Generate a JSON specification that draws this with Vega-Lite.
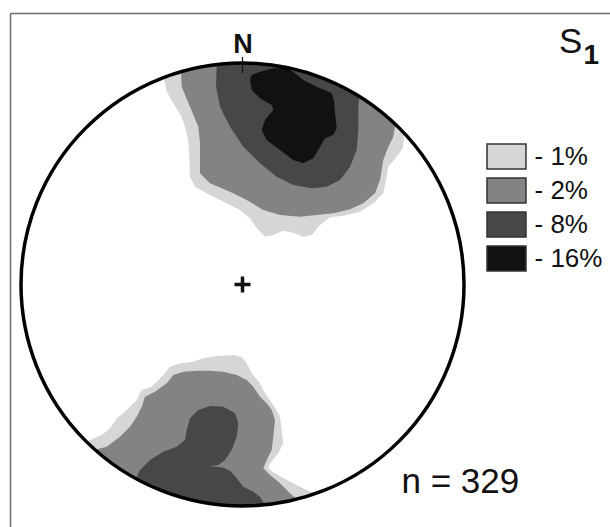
{
"$schema":"https://vega.github.io/schema/vega-lite/v6.json",
"width":600,"height":514,
"autosize":{"type":"none"},
"padding":{"left":10,"top":13,"right":0,"bottom":0},
"background":"white",
"config":{"view":{"stroke":null},"font":"Liberation Sans"},
"datasets":{
"contours":[
{"p":"nL","l":"1%","i":0,"x":-78.6,"y":207.1},{"p":"nL","l":"1%","i":1,"x":-75.8,"y":192.8},{"p":"nL","l":"1%","i":2,"x":-69.2,"y":181.2},{"p":"nL","l":"1%","i":3,"x":-60.8,"y":167.8},{"p":"nL","l":"1%","i":4,"x":-57.5,"y":157.8},{"p":"nL","l":"1%","i":5,"x":-54.2,"y":144.5},{"p":"nL","l":"1%","i":6,"x":-53.2,"y":127.8},{"p":"nL","l":"1%","i":7,"x":-52.5,"y":107.8},{"p":"nL","l":"1%","i":8,"x":-47.5,"y":97.8},{"p":"nL","l":"1%","i":9,"x":-32.5,"y":89.5},{"p":"nL","l":"1%","i":10,"x":-15.8,"y":81.2},{"p":"nL","l":"1%","i":11,"x":-2.5,"y":74.5},{"p":"nL","l":"1%","i":12,"x":7.5,"y":66.2},{"p":"nL","l":"1%","i":13,"x":15.8,"y":54.5},{"p":"nL","l":"1%","i":14,"x":22.5,"y":47.8},{"p":"nL","l":"1%","i":15,"x":30.8,"y":49.5},{"p":"nL","l":"1%","i":16,"x":40.8,"y":53.8},{"p":"nL","l":"1%","i":17,"x":50.8,"y":51.8},{"p":"nL","l":"1%","i":18,"x":60.8,"y":47.8},{"p":"nL","l":"1%","i":19,"x":69.2,"y":49.5},{"p":"nL","l":"1%","i":20,"x":77.5,"y":59.5},{"p":"nL","l":"1%","i":21,"x":87.5,"y":67.2},{"p":"nL","l":"1%","i":22,"x":100.8,"y":68.8},{"p":"nL","l":"1%","i":23,"x":117.5,"y":72.8},{"p":"nL","l":"1%","i":24,"x":130.8,"y":81.2},{"p":"nL","l":"1%","i":25,"x":140.8,"y":91.2},{"p":"nL","l":"1%","i":26,"x":143.5,"y":104.5},{"p":"nL","l":"1%","i":27,"x":145.8,"y":117.8},{"p":"nL","l":"1%","i":28,"x":154.2,"y":127.8},{"p":"nL","l":"1%","i":29,"x":160.2,"y":136.2},{"p":"nL","l":"1%","i":30,"x":161.5,"y":146.5},{"p":"nL","l":"1%","i":31,"x":160.5,"y":152.5},{"p":"nL","l":"1%","i":32,"x":156.6,"y":156.6},{"p":"nL","l":"1%","i":33,"x":142.4,"y":169.7},{"p":"nL","l":"1%","i":34,"x":127.0,"y":181.4},{"p":"nL","l":"1%","i":35,"x":110.8,"y":191.8},{"p":"nL","l":"1%","i":36,"x":93.6,"y":200.7},{"p":"nL","l":"1%","i":37,"x":75.8,"y":208.1},{"p":"nL","l":"1%","i":38,"x":57.3,"y":213.9},{"p":"nL","l":"1%","i":39,"x":38.5,"y":218.1},{"p":"nL","l":"1%","i":40,"x":19.3,"y":220.7},{"p":"nL","l":"1%","i":41,"x":0,"y":221.5},{"p":"nL","l":"1%","i":42,"x":-19.3,"y":220.7},{"p":"nL","l":"1%","i":43,"x":-38.5,"y":218.1},{"p":"nL","l":"1%","i":44,"x":-57.3,"y":213.9},{"p":"nL","l":"1%","i":45,"x":-75.8,"y":208.1},
{"p":"sL","l":"1%","i":0,"x":-156.1,"y":-157.2},{"p":"sL","l":"1%","i":1,"x":-140.8,"y":-150.5},{"p":"sL","l":"1%","i":2,"x":-132.5,"y":-143.8},{"p":"sL","l":"1%","i":3,"x":-125.8,"y":-133.8},{"p":"sL","l":"1%","i":4,"x":-117.5,"y":-127.2},{"p":"sL","l":"1%","i":5,"x":-105.8,"y":-115.5},{"p":"sL","l":"1%","i":6,"x":-100.8,"y":-105.5},{"p":"sL","l":"1%","i":7,"x":-90.8,"y":-102.2},{"p":"sL","l":"1%","i":8,"x":-80.8,"y":-92.2},{"p":"sL","l":"1%","i":9,"x":-72.5,"y":-82.2},{"p":"sL","l":"1%","i":10,"x":-62.5,"y":-78.8},{"p":"sL","l":"1%","i":11,"x":-49.2,"y":-77.2},{"p":"sL","l":"1%","i":12,"x":-39.2,"y":-73.8},{"p":"sL","l":"1%","i":13,"x":-25.8,"y":-71.5},{"p":"sL","l":"1%","i":14,"x":-9.2,"y":-70.5},{"p":"sL","l":"1%","i":15,"x":-0.8,"y":-72.2},{"p":"sL","l":"1%","i":16,"x":4.2,"y":-78.8},{"p":"sL","l":"1%","i":17,"x":9.2,"y":-88.8},{"p":"sL","l":"1%","i":18,"x":17.5,"y":-98.8},{"p":"sL","l":"1%","i":19,"x":22.5,"y":-108.8},{"p":"sL","l":"1%","i":20,"x":30.8,"y":-120.5},{"p":"sL","l":"1%","i":21,"x":37.5,"y":-132.2},{"p":"sL","l":"1%","i":22,"x":39.2,"y":-145.5},{"p":"sL","l":"1%","i":23,"x":40.8,"y":-158.8},{"p":"sL","l":"1%","i":24,"x":35.8,"y":-168.8},{"p":"sL","l":"1%","i":25,"x":27.5,"y":-178.8},{"p":"sL","l":"1%","i":26,"x":25.8,"y":-183.8},{"p":"sL","l":"1%","i":27,"x":32.5,"y":-188.8},{"p":"sL","l":"1%","i":28,"x":44.2,"y":-195.5},{"p":"sL","l":"1%","i":29,"x":57.5,"y":-202.2},{"p":"sL","l":"1%","i":30,"x":67.5,"y":-207.2},{"p":"sL","l":"1%","i":31,"x":74.2,"y":-208.8},{"p":"sL","l":"1%","i":32,"x":57.3,"y":-213.9},{"p":"sL","l":"1%","i":33,"x":38.5,"y":-218.1},{"p":"sL","l":"1%","i":34,"x":19.3,"y":-220.7},{"p":"sL","l":"1%","i":35,"x":0,"y":-221.5},{"p":"sL","l":"1%","i":36,"x":-19.3,"y":-220.7},{"p":"sL","l":"1%","i":37,"x":-38.5,"y":-218.1},{"p":"sL","l":"1%","i":38,"x":-57.3,"y":-213.9},{"p":"sL","l":"1%","i":39,"x":-75.8,"y":-208.1},{"p":"sL","l":"1%","i":40,"x":-93.6,"y":-200.7},{"p":"sL","l":"1%","i":41,"x":-110.8,"y":-191.8},{"p":"sL","l":"1%","i":42,"x":-127.0,"y":-181.4},{"p":"sL","l":"1%","i":43,"x":-142.4,"y":-169.7},
{"p":"nM","l":"2%","i":0,"x":-61.5,"y":212.5},{"p":"nM","l":"2%","i":1,"x":-60.8,"y":197.8},{"p":"nM","l":"2%","i":2,"x":-52.5,"y":177.8},{"p":"nM","l":"2%","i":3,"x":-44.2,"y":157.8},{"p":"nM","l":"2%","i":4,"x":-42.5,"y":141.2},{"p":"nM","l":"2%","i":5,"x":-42.5,"y":124.5},{"p":"nM","l":"2%","i":6,"x":-42.5,"y":111.2},{"p":"nM","l":"2%","i":7,"x":-32.5,"y":101.2},{"p":"nM","l":"2%","i":8,"x":-12.5,"y":92.8},{"p":"nM","l":"2%","i":9,"x":4.2,"y":84.5},{"p":"nM","l":"2%","i":10,"x":20.8,"y":74.5},{"p":"nM","l":"2%","i":11,"x":37.5,"y":69.5},{"p":"nM","l":"2%","i":12,"x":57.5,"y":67.8},{"p":"nM","l":"2%","i":13,"x":74.2,"y":69.5},{"p":"nM","l":"2%","i":14,"x":90.8,"y":71.2},{"p":"nM","l":"2%","i":15,"x":107.5,"y":75.2},{"p":"nM","l":"2%","i":16,"x":120.8,"y":81.2},{"p":"nM","l":"2%","i":17,"x":132.5,"y":91.2},{"p":"nM","l":"2%","i":18,"x":137.5,"y":104.5},{"p":"nM","l":"2%","i":19,"x":140.8,"y":124.5},{"p":"nM","l":"2%","i":20,"x":145.8,"y":137.8},{"p":"nM","l":"2%","i":21,"x":150.8,"y":147.8},{"p":"nM","l":"2%","i":22,"x":152.5,"y":158.5},{"p":"nM","l":"2%","i":23,"x":142.4,"y":169.7},{"p":"nM","l":"2%","i":24,"x":127.0,"y":181.4},{"p":"nM","l":"2%","i":25,"x":110.8,"y":191.8},{"p":"nM","l":"2%","i":26,"x":93.6,"y":200.7},{"p":"nM","l":"2%","i":27,"x":75.8,"y":208.1},{"p":"nM","l":"2%","i":28,"x":57.3,"y":213.9},{"p":"nM","l":"2%","i":29,"x":38.5,"y":218.1},{"p":"nM","l":"2%","i":30,"x":19.3,"y":220.7},{"p":"nM","l":"2%","i":31,"x":0,"y":221.5},{"p":"nM","l":"2%","i":32,"x":-19.3,"y":220.7},{"p":"nM","l":"2%","i":33,"x":-38.5,"y":218.1},{"p":"nM","l":"2%","i":34,"x":-57.3,"y":213.9},
{"p":"sM","l":"2%","i":0,"x":-147.5,"y":-165.2},{"p":"sM","l":"2%","i":1,"x":-135.8,"y":-162.2},{"p":"sM","l":"2%","i":2,"x":-122.5,"y":-152.2},{"p":"sM","l":"2%","i":3,"x":-112.5,"y":-142.2},{"p":"sM","l":"2%","i":4,"x":-105.8,"y":-132.2},{"p":"sM","l":"2%","i":5,"x":-100.8,"y":-122.2},{"p":"sM","l":"2%","i":6,"x":-97.5,"y":-112.2},{"p":"sM","l":"2%","i":7,"x":-87.5,"y":-107.2},{"p":"sM","l":"2%","i":8,"x":-75.8,"y":-98.8},{"p":"sM","l":"2%","i":9,"x":-69.2,"y":-90.5},{"p":"sM","l":"2%","i":10,"x":-59.2,"y":-87.2},{"p":"sM","l":"2%","i":11,"x":-45.8,"y":-86.2},{"p":"sM","l":"2%","i":12,"x":-32.5,"y":-86.2},{"p":"sM","l":"2%","i":13,"x":-19.2,"y":-87.2},{"p":"sM","l":"2%","i":14,"x":-5.8,"y":-90.5},{"p":"sM","l":"2%","i":15,"x":4.2,"y":-95.5},{"p":"sM","l":"2%","i":16,"x":10.8,"y":-102.2},{"p":"sM","l":"2%","i":17,"x":17.5,"y":-112.2},{"p":"sM","l":"2%","i":18,"x":24.2,"y":-118.8},{"p":"sM","l":"2%","i":19,"x":29.2,"y":-125.5},{"p":"sM","l":"2%","i":20,"x":32.5,"y":-135.5},{"p":"sM","l":"2%","i":21,"x":30.8,"y":-152.2},{"p":"sM","l":"2%","i":22,"x":29.2,"y":-165.5},{"p":"sM","l":"2%","i":23,"x":24.2,"y":-175.5},{"p":"sM","l":"2%","i":24,"x":20.8,"y":-183.8},{"p":"sM","l":"2%","i":25,"x":27.5,"y":-190.5},{"p":"sM","l":"2%","i":26,"x":37.5,"y":-198.8},{"p":"sM","l":"2%","i":27,"x":47.5,"y":-208.8},{"p":"sM","l":"2%","i":28,"x":54.2,"y":-214.8},{"p":"sM","l":"2%","i":29,"x":38.5,"y":-218.1},{"p":"sM","l":"2%","i":30,"x":19.3,"y":-220.7},{"p":"sM","l":"2%","i":31,"x":0,"y":-221.5},{"p":"sM","l":"2%","i":32,"x":-19.3,"y":-220.7},{"p":"sM","l":"2%","i":33,"x":-38.5,"y":-218.1},{"p":"sM","l":"2%","i":34,"x":-57.3,"y":-213.9},{"p":"sM","l":"2%","i":35,"x":-75.8,"y":-208.1},{"p":"sM","l":"2%","i":36,"x":-93.6,"y":-200.7},{"p":"sM","l":"2%","i":37,"x":-110.8,"y":-191.8},{"p":"sM","l":"2%","i":38,"x":-127.0,"y":-181.4},{"p":"sM","l":"2%","i":39,"x":-142.4,"y":-169.7},
{"p":"nD","l":"8%","i":0,"x":-25.8,"y":220.0},{"p":"nD","l":"8%","i":1,"x":-26.5,"y":197.8},{"p":"nD","l":"8%","i":2,"x":-22.5,"y":177.8},{"p":"nD","l":"8%","i":3,"x":-12.5,"y":157.8},{"p":"nD","l":"8%","i":4,"x":0.8,"y":137.8},{"p":"nD","l":"8%","i":5,"x":17.5,"y":121.2},{"p":"nD","l":"8%","i":6,"x":34.2,"y":107.8},{"p":"nD","l":"8%","i":7,"x":50.8,"y":99.5},{"p":"nD","l":"8%","i":8,"x":69.2,"y":96.2},{"p":"nD","l":"8%","i":9,"x":84.2,"y":97.8},{"p":"nD","l":"8%","i":10,"x":97.5,"y":104.5},{"p":"nD","l":"8%","i":11,"x":107.5,"y":117.8},{"p":"nD","l":"8%","i":12,"x":114.2,"y":134.5},{"p":"nD","l":"8%","i":13,"x":115.8,"y":154.5},{"p":"nD","l":"8%","i":14,"x":115.8,"y":177.8},{"p":"nD","l":"8%","i":15,"x":116.8,"y":188.4},{"p":"nD","l":"8%","i":16,"x":110.8,"y":191.8},{"p":"nD","l":"8%","i":17,"x":93.6,"y":200.7},{"p":"nD","l":"8%","i":18,"x":75.8,"y":208.1},{"p":"nD","l":"8%","i":19,"x":57.3,"y":213.9},{"p":"nD","l":"8%","i":20,"x":38.5,"y":218.1},{"p":"nD","l":"8%","i":21,"x":19.3,"y":220.7},{"p":"nD","l":"8%","i":22,"x":0,"y":221.5},{"p":"nD","l":"8%","i":23,"x":-19.3,"y":220.7},
{"p":"sD","l":"8%","i":0,"x":-106.5,"y":-193.7},{"p":"sD","l":"8%","i":1,"x":-102.5,"y":-185.5},{"p":"sD","l":"8%","i":2,"x":-92.5,"y":-175.5},{"p":"sD","l":"8%","i":3,"x":-79.2,"y":-167.2},{"p":"sD","l":"8%","i":4,"x":-65.8,"y":-162.2},{"p":"sD","l":"8%","i":5,"x":-57.5,"y":-155.5},{"p":"sD","l":"8%","i":6,"x":-55.8,"y":-145.5},{"p":"sD","l":"8%","i":7,"x":-52.5,"y":-133.8},{"p":"sD","l":"8%","i":8,"x":-44.2,"y":-125.5},{"p":"sD","l":"8%","i":9,"x":-32.5,"y":-121.5},{"p":"sD","l":"8%","i":10,"x":-19.2,"y":-122.2},{"p":"sD","l":"8%","i":11,"x":-7.5,"y":-128.8},{"p":"sD","l":"8%","i":12,"x":-4.2,"y":-138.8},{"p":"sD","l":"8%","i":13,"x":-5.8,"y":-152.2},{"p":"sD","l":"8%","i":14,"x":-10.8,"y":-165.5},{"p":"sD","l":"8%","i":15,"x":-17.5,"y":-175.5},{"p":"sD","l":"8%","i":16,"x":-24.2,"y":-180.5},{"p":"sD","l":"8%","i":17,"x":-32.5,"y":-181.5},{"p":"sD","l":"8%","i":18,"x":-19.2,"y":-183.2},{"p":"sD","l":"8%","i":19,"x":-12.5,"y":-186.2},{"p":"sD","l":"8%","i":20,"x":-5.8,"y":-193.8},{"p":"sD","l":"8%","i":21,"x":0.8,"y":-202.2},{"p":"sD","l":"8%","i":22,"x":10.8,"y":-207.2},{"p":"sD","l":"8%","i":23,"x":17.5,"y":-212.2},{"p":"sD","l":"8%","i":24,"x":22.5,"y":-220.4},{"p":"sD","l":"8%","i":25,"x":19.3,"y":-220.7},{"p":"sD","l":"8%","i":26,"x":0,"y":-221.5},{"p":"sD","l":"8%","i":27,"x":-19.3,"y":-220.7},{"p":"sD","l":"8%","i":28,"x":-38.5,"y":-218.1},{"p":"sD","l":"8%","i":29,"x":-57.3,"y":-213.9},{"p":"sD","l":"8%","i":30,"x":-75.8,"y":-208.1},{"p":"sD","l":"8%","i":31,"x":-93.6,"y":-200.7},
{"p":"nB","l":"16%","i":0,"x":7.5,"y":206.2},{"p":"nB","l":"16%","i":1,"x":9.2,"y":194.5},{"p":"nB","l":"16%","i":2,"x":17.5,"y":186.2},{"p":"nB","l":"16%","i":3,"x":29.2,"y":179.5},{"p":"nB","l":"16%","i":4,"x":30.8,"y":174.5},{"p":"nB","l":"16%","i":5,"x":22.5,"y":164.5},{"p":"nB","l":"16%","i":6,"x":19.2,"y":154.5},{"p":"nB","l":"16%","i":7,"x":24.2,"y":144.5},{"p":"nB","l":"16%","i":8,"x":37.5,"y":134.5},{"p":"nB","l":"16%","i":9,"x":50.8,"y":124.5},{"p":"nB","l":"16%","i":10,"x":60.8,"y":121.2},{"p":"nB","l":"16%","i":11,"x":70.8,"y":126.2},{"p":"nB","l":"16%","i":12,"x":77.5,"y":137.8},{"p":"nB","l":"16%","i":13,"x":82.5,"y":146.2},{"p":"nB","l":"16%","i":14,"x":90.8,"y":149.5},{"p":"nB","l":"16%","i":15,"x":94.2,"y":156.2},{"p":"nB","l":"16%","i":16,"x":92.5,"y":171.2},{"p":"nB","l":"16%","i":17,"x":91.5,"y":184.5},{"p":"nB","l":"16%","i":18,"x":89.2,"y":191.2},{"p":"nB","l":"16%","i":19,"x":74.2,"y":197.8},{"p":"nB","l":"16%","i":20,"x":60.8,"y":204.5},{"p":"nB","l":"16%","i":21,"x":52.5,"y":211.2},{"p":"nB","l":"16%","i":22,"x":45.8,"y":216.2},{"p":"nB","l":"16%","i":23,"x":30.8,"y":216.2},{"p":"nB","l":"16%","i":24,"x":17.5,"y":212.8},{"p":"nB","l":"16%","i":25,"x":9.2,"y":209.5}
],
"net":[{"x":0,"y":0}],
"tick":[{"x":0,"y":227.5,"y2":211.5}],
"labels":[{"k":"N","t":"N","x":0.5,"y":231.5},{"k":"S","t":"S","x":316.5,"y":231.5},{"k":"sub","t":"1","x":341,"y":220.5},{"k":"n","t":"n = 329","x":159,"y":-208.5}]
},
"encoding":{
"x":{"field":"x","type":"quantitative","scale":{"domain":[-232.5,367.5],"nice":false,"zero":false},"axis":{"orient":"top","domain":true,"domainColor":"#6e6e6e","domainWidth":1.5,"ticks":false,"labels":false,"grid":false,"title":null}},
"y":{"field":"y","type":"quantitative","scale":{"domain":[-242.5,271.5],"nice":false,"zero":false},"axis":{"orient":"left","domain":true,"domainColor":"#6e6e6e","domainWidth":1.5,"ticks":false,"labels":false,"grid":false,"title":null}}
},
"layer":[
{"data":{"name":"contours"},"transform":[{"filter":"datum.l === '1%'"}],"mark":{"type":"line","strokeOpacity":0,"strokeWidth":0},
 "encoding":{"detail":{"field":"p"},"order":{"field":"i","type":"quantitative"},
 "fill":{"field":"l","type":"nominal","scale":{"domain":["1%","2%","8%","16%"],"range":["#d6d6d6","#838383","#474747","#111111"]},
 "legend":{"title":null,"orient":"none","legendX":478.5,"legendY":125.5,"padding":0,"rowPadding":0,"symbolType":"M-1.13,-0.725H1.13V0.725H-1.13Z","symbolSize":1190,"symbolStrokeColor":"#333333","symbolStrokeWidth":1.5,"symbolOpacity":1,"labelFont":"Liberation Sans","labelFontSize":26,"labelColor":"#111111","labelOffset":10,"labelExpr":"'- ' + datum.label",
 "encode":{"symbols":{"update":{"stroke":{"value":"#333333"},"strokeWidth":{"value":1.5},"strokeOpacity":{"value":1}}}}}}}},
{"data":{"name":"contours"},"transform":[{"filter":"datum.l === '2%'"}],"mark":{"type":"line","strokeOpacity":0,"strokeWidth":0},
 "encoding":{"detail":{"field":"p"},"order":{"field":"i","type":"quantitative"},"fill":{"field":"l","type":"nominal"}}},
{"data":{"name":"contours"},"transform":[{"filter":"datum.l === '8%'"}],"mark":{"type":"line","strokeOpacity":0,"strokeWidth":0},
 "encoding":{"detail":{"field":"p"},"order":{"field":"i","type":"quantitative"},"fill":{"field":"l","type":"nominal"}}},
{"data":{"name":"contours"},"transform":[{"filter":"datum.l === '16%'"}],"mark":{"type":"line","strokeOpacity":0,"strokeWidth":0},
 "encoding":{"detail":{"field":"p"},"order":{"field":"i","type":"quantitative"},"fill":{"field":"l","type":"nominal"}}},
{"data":{"name":"net"},"mark":{"type":"point","shape":"circle","size":196249,"filled":false,"stroke":"#000000","strokeWidth":3.5,"opacity":1}},
{"data":{"name":"net"},"mark":{"type":"point","shape":"M-1,0H1M0,-1V1","size":256,"filled":false,"stroke":"#111111","strokeWidth":3.5,"opacity":1}},
{"data":{"name":"tick"},"mark":{"type":"rule","color":"#111111","strokeWidth":1.2},"encoding":{"y2":{"field":"y2"}}},
{"data":{"name":"labels"},"transform":[{"filter":"datum.k === 'N'"}],"mark":{"type":"text","font":"Liberation Sans","fontSize":27,"fontWeight":"bold","align":"center","baseline":"alphabetic","color":"#111111"},"encoding":{"text":{"field":"t"}}},
{"data":{"name":"labels"},"transform":[{"filter":"datum.k === 'S'"}],"mark":{"type":"text","font":"Liberation Sans","fontSize":35,"align":"left","baseline":"alphabetic","color":"#111111"},"encoding":{"text":{"field":"t"}}},
{"data":{"name":"labels"},"transform":[{"filter":"datum.k === 'sub'"}],"mark":{"type":"text","font":"Liberation Sans","fontSize":28,"fontWeight":"bold","align":"left","baseline":"alphabetic","color":"#111111"},"encoding":{"text":{"field":"t"}}},
{"data":{"name":"labels"},"transform":[{"filter":"datum.k === 'n'"}],"mark":{"type":"text","font":"Liberation Sans","fontSize":35,"align":"left","baseline":"alphabetic","color":"#111111"},"encoding":{"text":{"field":"t"}}}
]
}
